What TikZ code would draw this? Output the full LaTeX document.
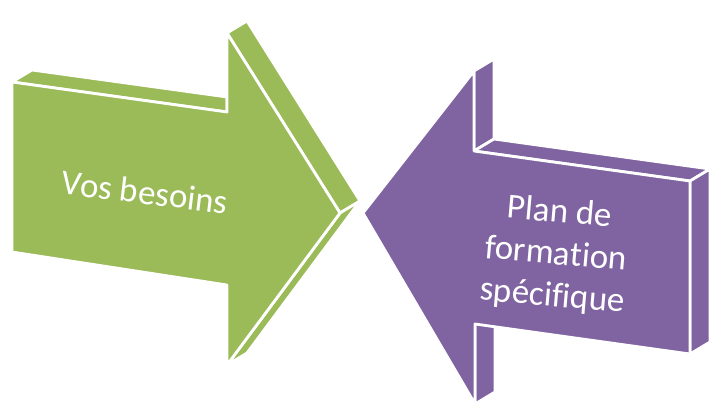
\documentclass[tikz,border=0pt]{standalone}
\usepackage{fontspec}
\setmainfont[Ligatures=NoCommon]{Carlito}
\definecolor{vert}{HTML}{9BBB59}
\definecolor{mauve}{HTML}{8064A2}
\tikzset{
  face/.style={fill=#1, draw=white, line width=2.8pt, line join=round},
  label/.style={text=white, font=\fontsize{35}{42}\selectfont, align=center}
}

\begin{document}
\begin{tikzpicture}[x=1pt, y=-1pt]
\useasboundingbox (0,0) rectangle (712,401);
\clip (0,0) rectangle (712,401);
% green arrow, sides then front
\draw[face=vert] (12,82)--(32,70)--(227,97)--(227,112)--cycle;
\draw[face=vert] (227,33)--(247,21)--(360,201)--(340,213)--cycle;
\draw[face=vert] (340,213)--(360,201)--(247,353)--(227,365)--cycle;
\draw[face=vert] (12,82)--(227,112)--(227,33)--(340,213)--(227,365)--(227,285)--(12,252)--cycle;
% purple arrow, sides then front
\draw[face=mauve] (474,71)--(494,59)--(494,139)--(474,151)--cycle;
\draw[face=mauve] (474,151)--(494,139)--(710,169)--(690,181)--cycle;
\draw[face=mauve] (690,181)--(710,169)--(710,342)--(690,354)--cycle;
\draw[face=mauve] (475,324)--(495,312)--(495,392)--(475,404)--cycle;
\draw[face=mauve] (363,213)--(474,71)--(474,151)--(690,181)--(690,354)--(475,324)--(475,404)--cycle;

\node[label, rotate=-7] (besoins) at (145,192) {Vos besoins};
\node[label, rotate=-5] (plan) at (556,255) {Plan de\\formation\\spécifique};
\end{tikzpicture}
\end{document}
